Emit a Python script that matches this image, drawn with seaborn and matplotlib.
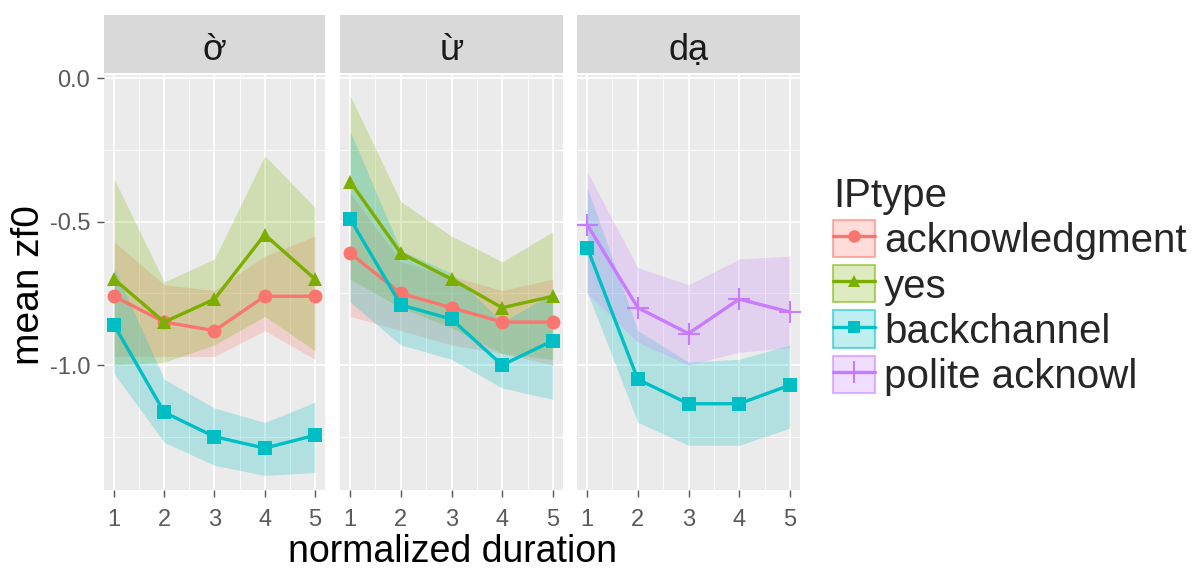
import numpy as np
import pandas as pd
import matplotlib
matplotlib.use("Agg")
import matplotlib.pyplot as plt
import seaborn as sns
from matplotlib.lines import Line2D
from matplotlib.patches import Patch
from matplotlib.colors import to_rgba
from matplotlib.ticker import FixedLocator

# ---- data -------------------------------------------------------------
words = ["ờ", "ừ", "dạ"]
steps = [1, 2, 3, 4, 5]
iptypes = ["acknowledgment", "yes", "backchannel", "polite acknowl"]

# ờ
o_ack_mean = [-0.76, -0.85, -0.88, -0.76, -0.76]
o_ack_lo = [-0.97, -0.97, -0.97, -0.88, -0.98]
o_ack_hi = [-0.57, -0.72, -0.74, -0.62, -0.55]
o_yes_mean = [-0.70, -0.85, -0.77, -0.545, -0.70]
o_yes_lo = [-1.00, -0.99, -0.93, -0.83, -0.95]
o_yes_hi = [-0.35, -0.71, -0.63, -0.27, -0.45]
o_bc_mean = [-0.86, -1.165, -1.25, -1.29, -1.245]
o_bc_lo = [-1.03, -1.27, -1.35, -1.385, -1.375]
o_bc_hi = [-0.66, -1.05, -1.15, -1.20, -1.13]

# ừ
u_ack_mean = [-0.61, -0.75, -0.80, -0.85, -0.85]
u_ack_lo = [-0.83, -0.88, -0.93, -0.96, -1.00]
u_ack_hi = [-0.40, -0.64, -0.69, -0.74, -0.70]
u_yes_mean = [-0.36, -0.61, -0.70, -0.80, -0.76]
u_yes_lo = [-0.70, -0.80, -0.87, -0.96, -0.98]
u_yes_hi = [-0.06, -0.43, -0.55, -0.64, -0.535]
u_bc_mean = [-0.49, -0.79, -0.84, -1.00, -0.915]
u_bc_lo = [-0.78, -0.93, -0.98, -1.08, -1.12]
u_bc_hi = [-0.185, -0.60, -0.68, -0.85, -0.75]

# dạ
d_bc_mean = [-0.59, -1.05, -1.135, -1.135, -1.07]
d_bc_lo = [-0.745, -1.20, -1.28, -1.28, -1.22]
d_bc_hi = [-0.38, -0.88, -0.99, -0.98, -0.93]
d_pol_mean = [-0.51, -0.80, -0.89, -0.77, -0.815]
d_pol_lo = [-0.75, -0.92, -1.00, -0.955, -0.94]
d_pol_hi = [-0.325, -0.66, -0.72, -0.63, -0.62]

y_ticks = [0.0, -0.5, -1.0]
y_tick_labels = ["0.0", "-0.5", "-1.0"]

series = [
    ("ờ", "acknowledgment", o_ack_mean, o_ack_lo, o_ack_hi),
    ("ờ", "yes", o_yes_mean, o_yes_lo, o_yes_hi),
    ("ờ", "backchannel", o_bc_mean, o_bc_lo, o_bc_hi),
    ("ừ", "acknowledgment", u_ack_mean, u_ack_lo, u_ack_hi),
    ("ừ", "yes", u_yes_mean, u_yes_lo, u_yes_hi),
    ("ừ", "backchannel", u_bc_mean, u_bc_lo, u_bc_hi),
    ("dạ", "backchannel", d_bc_mean, d_bc_lo, d_bc_hi),
    ("dạ", "polite acknowl", d_pol_mean, d_pol_lo, d_pol_hi),
]

rows = []
for w, t, m, lo, hi in series:
    for s, mv, lv, hv in zip(steps, m, lo, hi):
        rows.append(dict(word=w, IPtype=t, step=s, zf0=mv, lo=lv, hi=hv))
df = pd.DataFrame(rows)

# ---- style ------------------------------------------------------------
sns.set_theme(style="white")
plt.rcParams["font.family"] = ["Liberation Sans", "DejaVu Sans"]

palette = dict(zip(iptypes, ["#F8766D", "#7CAE00", "#00BFC4", "#C77CFF"]))
markers = dict(zip(iptypes, ["o", "^", "s", "+"]))

W, H = 1194, 571
fig = plt.figure(figsize=(W / 100, H / 100), dpi=100)
fig.patch.set_facecolor("white")

panel_x = [(104, 325), (340, 563), (577, 800)]
panel_top, panel_bot = 75, 490
strip_top, strip_bot = 15, 73


def frac_box(x0, x1, top, bot):
    return [x0 / W, 1 - bot / H, (x1 - x0) / W, (bot - top) / H]


for i, (w, (x0, x1)) in enumerate(zip(words, panel_x)):
    ax = fig.add_axes(frac_box(x0, x1, panel_top, panel_bot))
    ax.set_facecolor("#EBEBEB")
    for sp in ax.spines.values():
        sp.set_visible(False)

    sub = df[df.word == w]
    present = [t for t in iptypes if t in set(sub.IPtype)]

    for t in present:
        s = sub[sub.IPtype == t]
        ax.fill_between(s.step, s.lo, s.hi, color=palette[t], alpha=0.24,
                        lw=0, zorder=2)

    for t in present:
        s = sub[sub.IPtype == t]
        plus = markers[t] == "+"
        sns.lineplot(data=s, x="step", y="zf0", color=palette[t],
                     marker=markers[t], lw=2.4,
                     markersize=16 if plus else 10,
                     markeredgecolor=palette[t],
                     markeredgewidth=1.5 if plus else 0,
                     legend=False, ax=ax, zorder=3)

    ax.set_xlim(0.8, 5.2)
    ax.set_ylim(-1.436, 0.012)
    ax.set_xticks(steps)
    ax.set_xticklabels([str(s) for s in steps])
    ax.xaxis.set_minor_locator(FixedLocator([1.5, 2.5, 3.5, 4.5]))
    ax.set_yticks(y_ticks)
    ax.yaxis.set_minor_locator(FixedLocator([-0.25, -0.75, -1.25]))
    ax.grid(which="major", color="white", lw=1.3, zorder=0)
    ax.grid(which="minor", color="white", lw=0.6, zorder=0)
    ax.set_axisbelow(True)
    ax.tick_params(axis="both", which="major", length=5, width=1,
                   color="#555555", labelcolor="#5A5A5A", labelsize=17,
                   pad=5, bottom=True, left=True)
    ax.tick_params(axis="x", which="major", pad=9)
    ax.tick_params(which="minor", length=0)
    if i == 0:
        ax.set_yticklabels(y_tick_labels)
    else:
        ax.set_yticklabels([])
        ax.tick_params(axis="y", left=False)
    ax.set_xlabel("")
    ax.set_ylabel("")

    sax = fig.add_axes(frac_box(x0, x1, strip_top, strip_bot))
    sax.set_facecolor("#D9D9D9")
    sax.set_xlim(0, 1)
    sax.set_ylim(0, 1)
    sax.set_xticks([])
    sax.set_yticks([])
    for sp in sax.spines.values():
        sp.set_visible(False)
    base = (strip_bot - 60) / (strip_bot - strip_top)
    sax.text(0.5, base, w, ha="center", va="baseline", fontsize=26,
             color="#1A1A1A", transform=sax.transAxes)

fig.text(((panel_x[0][0] + panel_x[-1][1]) / 2) / W, 1 - 562 / H,
         "normalized duration", ha="center", va="baseline", fontsize=27,
         color="black")
fig.text(29 / W, 1 - 285 / H, "mean zf0", ha="center", va="center",
         rotation=90, fontsize=28, color="black")

handles = []
for t in iptypes:
    c = palette[t]
    patch = Patch(facecolor=to_rgba(c, 0.25), edgecolor=to_rgba(c, 0.55), lw=1.5)
    line = Line2D([], [], color=c, lw=2.4, marker=markers[t],
                  markersize=9 if markers[t] != "+" else 16,
                  markeredgewidth=0 if markers[t] != "+" else 1.5,
                  markeredgecolor=c)
    handles.append((patch, line))

leg = fig.legend(handles, iptypes, title="IPtype", loc="upper left",
                 bbox_to_anchor=(833 / W, 1 - 177 / H), frameon=False,
                 fontsize=29, title_fontsize=29, handlelength=1.05,
                 handleheight=1.05, handletextpad=0.22, labelspacing=0.12,
                 borderpad=0, borderaxespad=0)
leg._legend_box.align = "left"

fig.savefig("out.png", dpi=100, facecolor="white")
